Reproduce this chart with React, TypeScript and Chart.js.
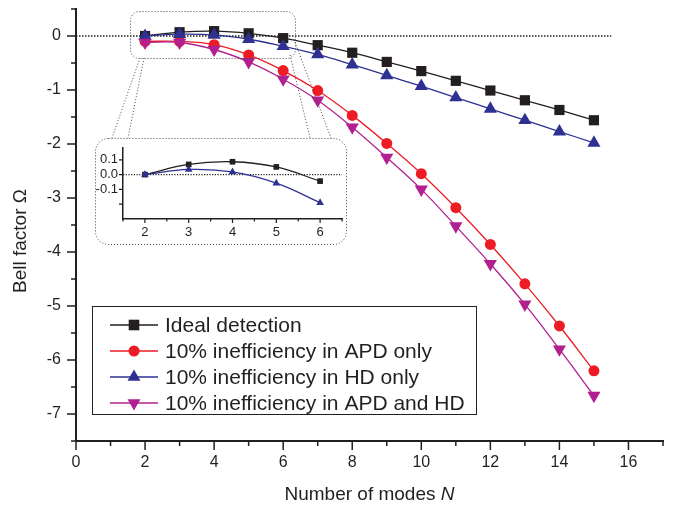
import React, { useEffect, useRef } from "react";
import { Chart, registerables } from "chart.js";
Chart.register(...registerables);

// ---------- data ----------
const modes = [2, 3, 4, 5, 6, 7, 8, 9, 10, 11, 12, 13, 14, 15];
const idealDetection = [0, 0.07, 0.09, 0.05, -0.04, -0.17, -0.31, -0.48, -0.65, -0.83, -1.01, -1.19, -1.37, -1.56];
const apdOnly = [-0.1, -0.1, -0.16, -0.35, -0.64, -1.01, -1.47, -1.99, -2.55, -3.18, -3.86, -4.59, -5.37, -6.2];
const hdOnly = [0, 0.035, 0.02, -0.06, -0.19, -0.34, -0.53, -0.73, -0.93, -1.14, -1.35, -1.56, -1.77, -1.98];
const apdAndHd = [-0.12, -0.12, -0.25, -0.48, -0.8, -1.19, -1.69, -2.25, -2.84, -3.52, -4.22, -4.97, -5.8, -6.66];

const insetModes = [2, 3, 4, 5, 6];
const insetIdeal = [0, 0.069, 0.087, 0.052, -0.044];
const insetHd = [0, 0.035, 0.018, -0.058, -0.19];

const seriesLabels = [
  "Ideal detection",
  "10% inefficiency in APD only",
  "10% inefficiency in HD only",
  "10% inefficiency in APD and HD",
];
const xTickLabels = [0, 2, 4, 6, 8, 10, 12, 14, 16];
const yTickLabels = [0, -1, -2, -3, -4, -5, -6, -7];
const insetXTickLabels = [2, 3, 4, 5, 6];
const insetYTickLabels = [0.1, 0, -0.1];
const insetYTicks = [0.1, 0, -0.1, -0.2];
const zeroLineX = [0, 15.5];
const insetZeroLineX = [1.5, 6.5];

// ---------- styles ----------
const FONT = "'Liberation Sans', Arial, Helvetica, sans-serif";
const AXIS = "#231f20";
const BLACK = "#231f20";
const RED = "#ed1c24";
const BLUE = "#2e3192";
const PURPLE = "#b2208f";
const DOT = "#444";

Chart.defaults.font.family = FONT;

const pts = (xs: number[], ys: number[]) => xs.map((x, i) => ({ x, y: ys[i] }));
const near = (a: number, list: number[]) => list.some((t) => Math.abs(a - t) < 1e-6);
const range = (a: number, b: number, s: number) => {
  const out: number[] = [];
  for (let v = a; v <= b + 1e-9; v += s) out.push(Math.round(v * 1000) / 1000);
  return out;
};

type TickSpec = {
  xMajor: number[]; xMinor: number[]; yMajor: number[]; yMinor: number[];
  xMajorLen: number; xMinorLen: number; yMajorLen: number; yMinorLen: number; width: number;
};

function tickPlugin(id: string, s: TickSpec) {
  return {
    id,
    afterDraw(chart: any) {
      const ctx = chart.ctx;
      const xs = chart.scales.x;
      const ys = chart.scales.y;
      const a = chart.chartArea;
      ctx.save();
      ctx.strokeStyle = AXIS;
      ctx.lineWidth = s.width;
      ctx.beginPath();
      const xt = (v: number, len: number) => {
        const p = xs.getPixelForValue(v);
        ctx.moveTo(p, a.bottom);
        ctx.lineTo(p, a.bottom + len);
      };
      const yt = (v: number, len: number) => {
        const p = ys.getPixelForValue(v);
        ctx.moveTo(a.left, p);
        ctx.lineTo(a.left - len, p);
      };
      s.xMajor.forEach((v) => xt(v, s.xMajorLen));
      s.xMinor.forEach((v) => xt(v, s.xMinorLen));
      s.yMajor.forEach((v) => yt(v, s.yMajorLen));
      s.yMinor.forEach((v) => yt(v, s.yMinorLen));
      ctx.stroke();
      ctx.restore();
    },
  };
}

function drawMarker(ctx: CanvasRenderingContext2D, kind: string, x: number, y: number, r: number, color: string) {
  ctx.save();
  ctx.fillStyle = color;
  ctx.beginPath();
  if (kind === "rect") {
    const h = r * Math.SQRT1_2;
    ctx.rect(x - h, y - h, 2 * h, 2 * h);
  } else if (kind === "circle") {
    ctx.arc(x, y, r, 0, Math.PI * 2);
  } else {
    const dir = kind === "down" ? -1 : 1;
    ctx.moveTo(x, y - dir * r);
    ctx.lineTo(x + r * Math.sin((2 * Math.PI) / 3), y - dir * r * Math.cos((2 * Math.PI) / 3));
    ctx.lineTo(x - r * Math.sin((2 * Math.PI) / 3), y - dir * r * Math.cos((2 * Math.PI) / 3));
    ctx.closePath();
  }
  ctx.fill();
  ctx.restore();
}

function roundRect(ctx: CanvasRenderingContext2D, x0: number, y0: number, x1: number, y1: number, r: number) {
  ctx.beginPath();
  ctx.moveTo(x0 + r, y0);
  ctx.lineTo(x1 - r, y0);
  ctx.arcTo(x1, y0, x1, y0 + r, r);
  ctx.lineTo(x1, y1 - r);
  ctx.arcTo(x1, y1, x1 - r, y1, r);
  ctx.lineTo(x0 + r, y1);
  ctx.arcTo(x0, y1, x0, y1 - r, r);
  ctx.lineTo(x0, y0 + r);
  ctx.arcTo(x0, y0, x0 + r, y0, r);
  ctx.closePath();
}

const legendItems = [
  { color: BLACK, marker: "rect", r: 7.5 },
  { color: RED, marker: "circle", r: 5.5 },
  { color: BLUE, marker: "up", r: 7.5 },
  { color: PURPLE, marker: "down", r: 7.5 },
];

const TITLE_SIZE = 19;

const decorPlugin = {
  id: "decor",
  afterDraw(chart: any) {
    const ctx: CanvasRenderingContext2D = chart.ctx;
    const a = chart.chartArea;
    ctx.save();
    // zoom box + inset box + connectors (dotted)
    ctx.strokeStyle = DOT;
    ctx.lineWidth = 1;
    ctx.setLineDash([1, 2]);
    roundRect(ctx, 130.5, 11.5, 295.5, 58.5, 9);
    ctx.stroke();
    roundRect(ctx, 95.5, 138.5, 346.5, 244.5, 13);
    ctx.stroke();
    ctx.beginPath();
    ctx.moveTo(140, 58); ctx.lineTo(112, 138);
    ctx.moveTo(144, 58); ctx.lineTo(128, 138);
    ctx.moveTo(290, 55); ctx.lineTo(310, 138);
    ctx.moveTo(295, 42); ctx.lineTo(331, 138);
    ctx.stroke();
    ctx.setLineDash([]);

    // legend
    ctx.fillStyle = "#fff";
    ctx.fillRect(92.5, 306.5, 384, 108);
    ctx.strokeStyle = AXIS;
    ctx.lineWidth = 1;
    ctx.strokeRect(92.5, 306.5, 384, 108);
    ctx.font = `21px ${FONT}`;
    ctx.textBaseline = "middle";
    ctx.textAlign = "left";
    legendItems.forEach((it, i) => {
      const y = 325 + i * 26;
      ctx.strokeStyle = it.color;
      ctx.lineWidth = 1.3;
      ctx.beginPath();
      ctx.moveTo(110, y);
      ctx.lineTo(158, y);
      ctx.stroke();
      drawMarker(ctx, it.marker, 134, y, it.r, it.color);
      ctx.fillStyle = AXIS;
      ctx.fillText(seriesLabels[i], 165, y + 1);
    });

    // x axis title with italic N
    const cx = (a.left + a.right) / 2;
    const ty = 495;
    ctx.font = `${TITLE_SIZE}px ${FONT}`;
    const t1 = "Number of modes ";
    const w1 = ctx.measureText(t1).width;
    ctx.font = `italic ${TITLE_SIZE}px ${FONT}`;
    const w2 = ctx.measureText("N").width;
    const sx = cx - (w1 + w2) / 2;
    ctx.fillStyle = AXIS;
    ctx.textBaseline = "middle";
    ctx.font = `${TITLE_SIZE}px ${FONT}`;
    ctx.fillText(t1, sx, ty);
    ctx.font = `italic ${TITLE_SIZE}px ${FONT}`;
    ctx.fillText("N", sx + w1, ty);

    // y axis title
    ctx.translate(21, 241);
    ctx.rotate(-Math.PI / 2);
    ctx.textAlign = "center";
    ctx.font = `${TITLE_SIZE}px ${FONT}`;
    ctx.fillText("Bell factor Ω", 0, 0);
    ctx.restore();
  },
};

function mainConfig(): any {
  const line = (label: string, ys: number[], color: string, style: string, r: number, order: number, rot = 0) => ({
    label,
    data: pts(modes, ys),
    borderColor: color,
    backgroundColor: color,
    borderWidth: 1.3,
    pointStyle: style,
    pointRadius: r,
    pointRotation: rot,
    pointBorderWidth: 0,
    pointBackgroundColor: color,
    tension: 0.4,
    order,
  });
  return {
    type: "line",
    data: {
      datasets: [
        {
          label: "zero",
          data: zeroLineX.map((x) => ({ x, y: 0 })),
          borderColor: AXIS,
          borderWidth: 1.5,
          borderDash: [1.5, 1.5],
          pointRadius: 0,
          order: 10,
        },
        line(seriesLabels[0], idealDetection, BLACK, "rect", 7.2, 4),
        line(seriesLabels[1], apdOnly, RED, "circle", 5.5, 3),
        line(seriesLabels[2], hdOnly, BLUE, "triangle", 7.6, 2),
        line(seriesLabels[3], apdAndHd, PURPLE, "triangle", 7.6, 1, 180),
      ],
    },
    options: {
      responsive: false,
      animation: false,
      devicePixelRatio: 1,
      events: [],
      layout: { padding: { top: 9, right: 34, left: 0, bottom: 0 } },
      plugins: { legend: { display: false }, tooltip: { enabled: false } },
      scales: {
        x: {
          type: "linear",
          min: 0,
          max: 17,
          afterBuildTicks: (s: any) => { s.ticks = range(0, 17, 1).map((value) => ({ value })); },
          afterFit: (s: any) => { s.height = 66; s.paddingLeft = 0; s.paddingRight = 0; },
          grid: { display: false, drawTicks: false },
          border: { display: true, color: AXIS, width: 2 },
          ticks: {
            autoSkip: false,
            maxRotation: 0,
            padding: 12,
            color: AXIS,
            font: { size: 16 },
            callback: (v: number) => (near(v, xTickLabels) ? String(v) : ""),
          },
        },
        y: {
          type: "linear",
          min: -7.5,
          max: 0.5,
          afterBuildTicks: (s: any) => { s.ticks = range(-7.5, 0.5, 0.5).map((value) => ({ value })); },
          afterFit: (s: any) => { s.width = 76; s.paddingTop = 0; s.paddingBottom = 0; },
          grid: { display: false, drawTicks: false },
          border: { display: true, color: AXIS, width: 2 },
          ticks: {
            autoSkip: false,
            padding: 15,
            color: AXIS,
            font: { size: 16 },
            callback: (v: number) => (near(v, yTickLabels) ? String(Math.round(v)) : ""),
          },
        },
      },
    },
    plugins: [
      tickPlugin("mainTicks", {
        xMajor: xTickLabels,
        xMinor: range(1, 17, 2),
        yMajor: yTickLabels,
        yMinor: range(-7.5, 0.5, 1),
        xMajorLen: 9, xMinorLen: 5, yMajorLen: 9, yMinorLen: 5, width: 1.5,
      }),
      decorPlugin,
    ],
  };
}

function insetConfig(): any {
  const line = (label: string, ys: number[], color: string, style: string, r: number, order: number) => ({
    label,
    data: pts(insetModes, ys),
    borderColor: color,
    backgroundColor: color,
    borderWidth: 1.3,
    pointStyle: style,
    pointRadius: r,
    pointBorderWidth: 0,
    pointBackgroundColor: color,
    tension: 0.4,
    order,
  });
  return {
    type: "line",
    data: {
      datasets: [
        {
          label: "zero",
          data: insetZeroLineX.map((x) => ({ x, y: 0 })),
          borderColor: AXIS,
          borderWidth: 1.2,
          borderDash: [1.2, 1.5],
          pointRadius: 0,
          order: 10,
        },
        line(seriesLabels[0], insetIdeal, BLACK, "rect", 4, 2),
        line(seriesLabels[2], insetHd, BLUE, "triangle", 4.4, 1),
      ],
    },
    options: {
      responsive: false,
      animation: false,
      devicePixelRatio: 1,
      events: [],
      layout: { padding: { top: 10, right: 5, left: 0, bottom: 0 } },
      plugins: { legend: { display: false }, tooltip: { enabled: false } },
      scales: {
        x: {
          type: "linear",
          min: 1.5,
          max: 6.5,
          afterBuildTicks: (s: any) => { s.ticks = range(1.5, 6.5, 0.5).map((value) => ({ value })); },
          afterFit: (s: any) => { s.height = 26; s.paddingLeft = 0; s.paddingRight = 0; },
          grid: { display: false, drawTicks: false },
          border: { display: true, color: AXIS, width: 1.5 },
          ticks: {
            autoSkip: false,
            maxRotation: 0,
            padding: 6,
            color: AXIS,
            font: { size: 13 },
            callback: (v: number) => (near(v, insetXTickLabels) ? String(v) : ""),
          },
        },
        y: {
          type: "linear",
          min: -0.3,
          max: 0.18,
          afterBuildTicks: (s: any) => { s.ticks = insetYTicks.map((value) => ({ value })); },
          afterFit: (s: any) => { s.width = 28; s.paddingTop = 0; s.paddingBottom = 0; },
          grid: { display: false, drawTicks: false },
          border: { display: true, color: AXIS, width: 1.5 },
          ticks: {
            autoSkip: false,
            padding: 5,
            color: AXIS,
            font: { size: 13 },
            callback: (v: number) => (near(v, insetYTickLabels) ? (Math.abs(v) < 1e-9 ? "0.0" : v.toFixed(1)) : ""),
          },
        },
      },
    },
    plugins: [
      tickPlugin("insetTicks", {
        xMajor: insetXTickLabels,
        xMinor: range(1.5, 6.5, 1),
        yMajor: insetYTicks,
        yMinor: [],
        xMajorLen: 4, xMinorLen: 2.5, yMajorLen: 4, yMinorLen: 2, width: 1.2,
      }),
    ],
  };
}

export default function App() {
  const mainRef = useRef<HTMLCanvasElement>(null);
  const insetRef = useRef<HTMLCanvasElement>(null);
  useEffect(() => {
    const main = new Chart(mainRef.current as HTMLCanvasElement, mainConfig());
    const inset = new Chart(insetRef.current as HTMLCanvasElement, insetConfig());
    return () => {
      main.destroy();
      inset.destroy();
    };
  }, []);
  return (
    <div style={{ position: "absolute", left: 0, top: 0, width: 697, height: 507, background: "#fff" }}>
      <canvas ref={mainRef} width={697} height={507} style={{ position: "absolute", left: 0, top: 0, width: 697, height: 507 }} />
      <canvas ref={insetRef} width={252} height={107} style={{ position: "absolute", left: 95, top: 138, width: 252, height: 107 }} />
    </div>
  );
}
